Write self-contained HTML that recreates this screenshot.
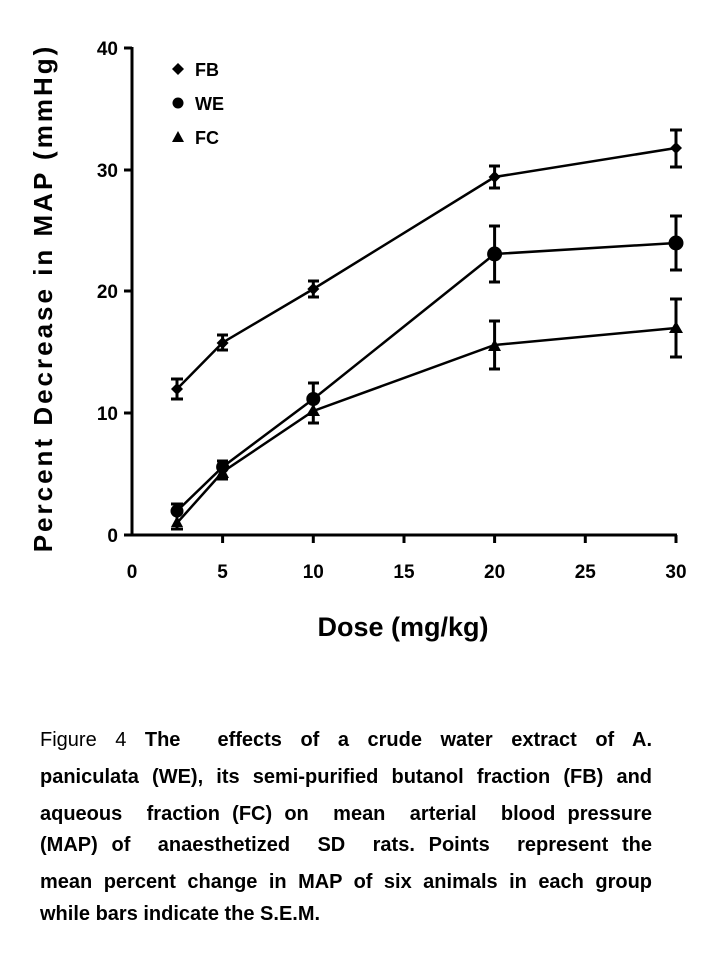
<!DOCTYPE html>
<html><head><style>
body{margin:0;background:#fff;width:719px;height:959px;overflow:hidden;position:relative;font-family:"Liberation Sans",sans-serif;}
.cap{position:absolute;left:40px;width:612px;font-weight:bold;font-size:20px;text-align:justify;text-align-last:justify;white-space:nowrap;}
</style></head><body>
<svg width="719" height="959" style="position:absolute;left:0;top:0" font-family="Liberation Sans, sans-serif">
<g stroke="#000" stroke-width="3" fill="none">
<line x1="132" y1="47" x2="132" y2="536"/>
<line x1="131" y1="535" x2="677" y2="535"/>
<line x1="124" y1="48" x2="132" y2="48"/>
<line x1="124" y1="170" x2="132" y2="170"/>
<line x1="124" y1="291" x2="132" y2="291"/>
<line x1="124" y1="413" x2="132" y2="413"/>
<line x1="124" y1="535" x2="132" y2="535"/>
<line x1="222.6" y1="535" x2="222.6" y2="543"/>
<line x1="313.3" y1="535" x2="313.3" y2="543"/>
<line x1="404" y1="535" x2="404" y2="543"/>
<line x1="494.6" y1="535" x2="494.6" y2="543"/>
<line x1="585.3" y1="535" x2="585.3" y2="543"/>
<line x1="676" y1="535" x2="676" y2="543"/>
</g>
<g font-size="19" font-weight="bold" text-anchor="end">
<text x="118" y="55">40</text><text x="118" y="177">30</text><text x="118" y="298">20</text><text x="118" y="420">10</text><text x="118" y="542">0</text>
</g>
<g font-size="19" font-weight="bold" text-anchor="middle">
<text x="132" y="578">0</text><text x="222.6" y="578">5</text><text x="313.3" y="578">10</text><text x="404" y="578">15</text><text x="494.6" y="578">20</text><text x="585.3" y="578">25</text><text x="676" y="578">30</text>
</g>
<text x="403" y="636" font-size="27" font-weight="bold" text-anchor="middle">Dose (mg/kg)</text>
<text transform="translate(52,298) rotate(-90)" font-size="26" font-weight="bold" text-anchor="middle" letter-spacing="3">Percent Decrease in MAP (mmHg)</text>
<path d="M178 63 L184 69 L178 75 L172 69 Z" fill="#000"/>
<text x="195" y="76" font-size="18" font-weight="bold">FB</text>
<circle cx="178" cy="103" r="5.5" fill="#000"/>
<text x="195" y="110" font-size="18" font-weight="bold">WE</text>
<path d="M178 131 L184 142 L172 142 Z" fill="#000"/>
<text x="195" y="144" font-size="18" font-weight="bold">FC</text>
<g stroke="#000" stroke-width="2.5" fill="none">
<polyline points="177,389 222.6,342.6 313.3,289 494.6,177 676,148"/>
<polyline points="177,511 222.6,467 313.3,399 494.6,254 676,243"/>
<polyline points="177,523 222.6,472 313.3,411 494.6,345 676,328"/>
</g>
<g stroke="#000" stroke-width="3" fill="none">
<path d="M177,379V399M171,379H183M171,399H183"/>
<path d="M222.6,335V350M217,335H228M217,350H228"/>
<path d="M313.3,281V297M308,281H319M308,297H319"/>
<path d="M494.6,166V188M489,166H500M489,188H500"/>
<path d="M676,130V167M670,130H682M670,167H682"/>
<path d="M177,504V520M171,504H183"/>
<path d="M222.6,461V479M217,461H228M217,479H228"/>
<path d="M313.3,383V413M308,383H319"/>
<path d="M494.6,226V282M489,226H500M489,282H500"/>
<path d="M676,216V270M670,216H682M670,270H682"/>
<path d="M177,523V529M171,529H183"/>
<path d="M313.3,411V423M308,423H319"/>
<path d="M494.6,321V369M489,321H500M489,369H500"/>
<path d="M676,299V357M670,299H682M670,357H682"/>
</g>
<g fill="#000">
<path d="M177,383 L183,389 L177,395 L171,389Z"/>
<path d="M222.6,337 L228.6,343 L222.6,349 L216.6,343Z"/>
<path d="M313.3,283 L319.3,289 L313.3,295 L307.3,289Z"/>
<path d="M494.6,171 L500.6,177 L494.6,183 L488.6,177Z"/>
<path d="M676,142 L682,148 L676,154 L670,148Z"/>
<circle cx="177" cy="511" r="6.5"/><circle cx="222.6" cy="467" r="6.5"/><circle cx="313.3" cy="399" r="7"/><circle cx="494.6" cy="254" r="7.5"/><circle cx="676" cy="243" r="7.5"/>
<path d="M177,516 L183,527 L171,527Z"/><path d="M222.6,466 L229,478 L216,478Z"/><path d="M313.3,404 L320,416 L306,416Z"/><path d="M494.6,339 L501,351 L488,351Z"/><path d="M676,321 L683,333 L669,333Z"/>
</g>
</svg>
<div class="cap" style="top:729px"><span style="font-weight:normal">Figure 4</span> The &nbsp;effects of a crude water extract of A.</div>
<div class="cap" style="top:766px">paniculata (WE), its semi-purified butanol fraction (FB) and</div>
<div class="cap" style="top:803px">aqueous &nbsp;fraction (FC) on &nbsp;mean &nbsp;arterial &nbsp;blood pressure</div>
<div class="cap" style="top:834px">(MAP) of &nbsp;anaesthetized &nbsp;SD &nbsp;rats. Points &nbsp;represent the</div>
<div class="cap" style="top:871px">mean percent change in MAP of six animals in each group</div>
<div class="cap" style="top:903px;width:auto;text-align-last:auto">while bars indicate the S.E.M.</div>
</body></html>
